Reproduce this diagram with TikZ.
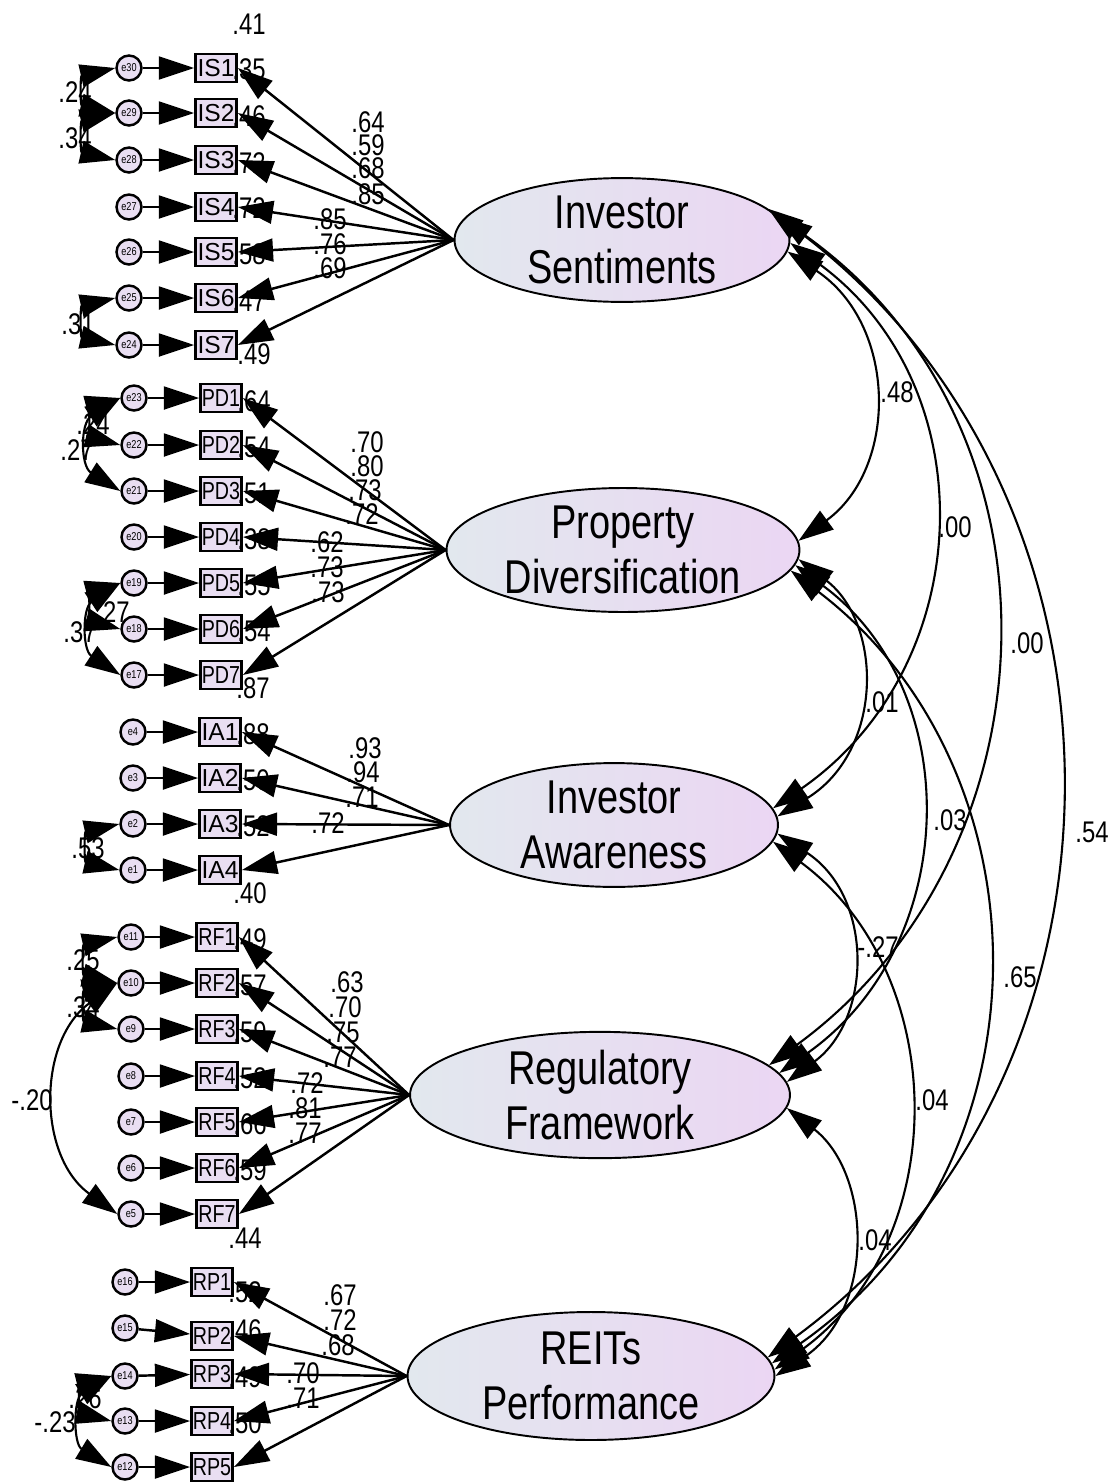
\documentclass[tikz,border=0pt]{standalone}
\usepackage{fontspec}
\setmainfont[FakeStretch=0.8]{Liberation Sans}
\newfontfamily\wideboxfont{Liberation Sans}
\usetikzlibrary{shapes.geometric,arrows.meta}

\definecolor{boxfill}{RGB}{233,222,242}
\definecolor{latleft}{RGB}{226,232,238}
\definecolor{latright}{RGB}{235,214,243}

\tikzset{
  observed/.style = {draw, line width=1.6pt, fill=boxfill, minimum width=0.82cm,
    minimum height=0.56cm, inner sep=0pt, font=\fontsize{14}{14}\selectfont},
  widebox/.style = {font=\wideboxfont\fontsize{14}{14}\selectfont},
  errvar/.style = {circle, draw, line width=1.4pt, fill=boxfill, minimum size=0.5cm,
    inner sep=0pt, font=\fontsize{6.5}{6.5}\selectfont},
  latent/.style = {ellipse, draw, line width=1.1pt, left color=latleft, right color=latright,
    inner sep=0pt, align=center, font=\fontsize{27}{31}\selectfont},
  num/.style = {inner sep=0pt, font=\fontsize{17}{17}\selectfont},
  bigtip/.tip = {Triangle[length=20pt,width=13pt]},
  loading/.style = {line width=1.4pt, -bigtip},
  errarrow/.style = {line width=1.4pt, -bigtip},
  covarc/.style = {line width=1.2pt, bigtip-bigtip},
}

\begin{document}
\begin{tikzpicture}[x=0.02cm, y=-0.02cm]
\useasboundingbox (0,0) rectangle (1115,1484);

% latent factors
\node[latent, minimum width=6.70cm, minimum height=2.40cm] (IS) at (622,240) {Investor\\Sentiments};
\node[latent, minimum width=7.06cm, minimum height=2.48cm] (PD) at (623,550) {Property\\Diversification};
\node[latent, minimum width=6.56cm, minimum height=2.28cm] (IA) at (614,825) {Investor\\Awareness};
\node[latent, minimum width=7.60cm, minimum height=2.48cm] (RF) at (600,1095) {Regulatory\\Framework};
\node[latent, minimum width=7.34cm, minimum height=2.56cm] (RP) at (591,1376) {REITs\\Performance};

% indicators, errors and squared multiple correlations
\foreach \i/\e/\y/\rsq in {1/30/68/.41, 2/29/113/.35, 3/28/160/.46, 4/27/207/.72,
    5/26/252/.72, 6/25/298/.58, 7/24/345/.47} {
  \node[observed, widebox] (IS\i) at (216,\y) {IS\i};
  \node[errvar] (e\e) at (129,\y) {e\e};
  \node[num] (rIS\i) at ([shift={(33,-44)}]IS\i.center) {\rsq};
  \draw[errarrow] (e\e) -- (IS\i);
}
\foreach \i/\e/\y/\rsq in {1/23/398/.49, 2/22/445/.64, 3/21/491/.54, 4/20/537/.51,
    5/19/583/.38, 6/18/629/.55, 7/17/675/.54} {
  \node[observed] (PD\i) at (221,\y) {PD\i};
  \node[errvar] (e\e) at (134,\y) {e\e};
  \node[num] (rPD\i) at ([shift={(33,-44)}]PD\i.center) {\rsq};
  \draw[errarrow] (e\e) -- (PD\i);
}
\foreach \i/\e/\y/\rsq in {1/4/732/.87, 2/3/778/.88, 3/2/824/.50, 4/1/870/.52} {
  \node[observed, widebox] (IA\i) at (220,\y) {IA\i};
  \node[errvar] (e\e) at (133,\y) {e\e};
  \node[num] (rIA\i) at ([shift={(33,-44)}]IA\i.center) {\rsq};
  \draw[errarrow] (e\e) -- (IA\i);
}
\foreach \i/\e/\y/\rsq in {1/11/937/.40, 2/10/983/.49, 3/9/1029/.57, 4/8/1076/.59,
    5/7/1122/.52, 6/6/1168/.66, 7/5/1214/.59} {
  \node[observed] (RF\i) at (217,\y) {RF\i};
  \node[errvar] (e\e) at (131,\y) {e\e};
  \node[num] (rRF\i) at ([shift={(33,-44)}]RF\i.center) {\rsq};
  \draw[errarrow] (e\e) -- (RF\i);
}
\foreach \i/\e/\y/\ey/\rsq in {1/16/1282/1282/.44, 2/15/1336/1328/.52, 3/14/1374/1376/.46,
    4/13/1421/1421/.49, 5/12/1467/1467/.50} {
  \node[observed] (RP\i) at (212,\y) {RP\i};
  \node[errvar] (e\e) at (125,\ey) {e\e};
  \node[num] (rRP\i) at ([shift={(33,-44)}]RP\i.center) {\rsq};
  \draw[errarrow] (e\e) -- (RP\i);
}

% loading values
\foreach \n/\x/\y/\v in {IS1/368/122/.64, IS2/368/145/.59, IS3/368/168/.68, IS4/368/194/.85,
    IS5/330/219/.85, IS6/330/244/.76, IS7/330/268/.69,
    PD1/367/442/.70, PD2/367/466/.80, PD3/365/490/.73, PD4/362/514/.72,
    PD5/327/542/.62, PD6/327/567/.73, PD7/328/592/.73,
    IA1/365/748/.93, IA2/363/772/.94, IA3/362/797/.71, IA4/328/823/.72,
    RF1/347/982/.63, RF2/345/1007/.70, RF3/343/1032/.75, RF4/340/1057/.77,
    RF5/307/1083/.72, RF6/305/1108/.81, RF7/305/1133/.77,
    RP1/340/1295/.67, RP2/340/1320/.72, RP3/338/1345/.68, RP4/303/1373/.70, RP5/303/1398/.71}
  \node[num] (l\n) at (\x,\y) {\v};

% covariance values
\foreach \n/\x/\y/\v in {c1/75/92/.24, c2/75/138/.34, c3/78/324/.31,
    c4/93/424/.24, c5/77/450/.27, c6/113/612/.27, c7/80/632/.37,
    c8/88/848/.53, c9/83/960/.25, c10/83/1007/.34, c11/32/1100/-.20,
    c12/85/1398/.26, c13/55/1422/-.23,
    c14/897/392/.48, c15/955/527/.00, c16/1027/643/.00, c17/1092/832/.54,
    c18/882/702/.01, c19/950/820/.03, c20/1020/977/.65,
    c21/878/947/-.27, c22/932/1100/.04, c23/875/1240/.04}
  \node[num] (\n) at (\x,\y) {\v};

% loadings
\foreach \i in {1,...,7} \draw[loading] (IS.west) -- (IS\i.east);
\foreach \i in {1,...,7} \draw[loading] (PD.west) -- (PD\i.east);
\foreach \i in {1,...,4} \draw[loading] (IA.west) -- (IA\i.east);
\foreach \i in {1,...,7} \draw[loading] (RF.west) -- (RF\i.east);
\foreach \i in {1,...,5} \draw[loading] (RP.west) -- (RP\i.east);

% error covariances
\draw[covarc] (e30.west) .. controls +(-35,8) and +(-35,-8) .. (e29.west);
\draw[covarc] (e29.west) .. controls +(-35,8) and +(-35,-8) .. (e28.west);
\draw[covarc] (e25.west) .. controls +(-35,8) and +(-35,-8) .. (e24.west);
\draw[covarc] (e23.west) .. controls +(-30,8) and +(-30,-8) .. (e22.west);
\draw[covarc] (e23.west) .. controls +(-40,25) and +(-40,-25) .. (e21.west);
\draw[covarc] (e19.west) .. controls +(-30,8) and +(-30,-8) .. (e18.west);
\draw[covarc] (e19.west) .. controls +(-38,25) and +(-38,-25) .. (e17.west);
\draw[covarc] (e2.west) .. controls +(-35,8) and +(-35,-8) .. (e1.west);
\draw[covarc] (e11.west) .. controls +(-35,8) and +(-35,-8) .. (e10.west);
\draw[covarc] (e10.west) .. controls +(-35,8) and +(-35,-8) .. (e9.west);
\draw[covarc] (e10.west) .. controls +(-80,58) and +(-80,-58) .. (e5.west);
\draw[covarc] (e14.west) .. controls +(-32,8) and +(-32,-8) .. (e13.west);
\draw[covarc] (e14.west) .. controls +(-38,23) and +(-38,-23) .. (e12.west);

% factor correlations
\draw[covarc] (IS.-4) .. controls +(110,73) and +(100,-73) .. (PD.3);
\draw[covarc] (IS.-1) .. controls +(197,143) and +(206,-143) .. (IA.6);
\draw[covarc] (IS.9) .. controls +(299,213) and +(291,-213) .. (RF.10);
\draw[covarc] (IS.12) .. controls +(385,286) and +(388,-286) .. (RP.6);
\draw[covarc] (PD.-3) .. controls +(85,65) and +(106,-65) .. (IA.3);
\draw[covarc] (PD.-5) .. controls +(172,128) and +(181,-128) .. (RF.7);
\draw[covarc] (PD.-7) .. controls +(261,199) and +(285,-199) .. (RP.4);
\draw[covarc] (IA.-3) .. controls +(97,63) and +(85,-63) .. (RF.4);
\draw[covarc] (IA.-6) .. controls +(177,131) and +(180,-131) .. (RP.2);
\draw[covarc] (RF.-4) .. controls +(85,66) and +(100,-66) .. (RP.0);
\end{tikzpicture}
\end{document}
